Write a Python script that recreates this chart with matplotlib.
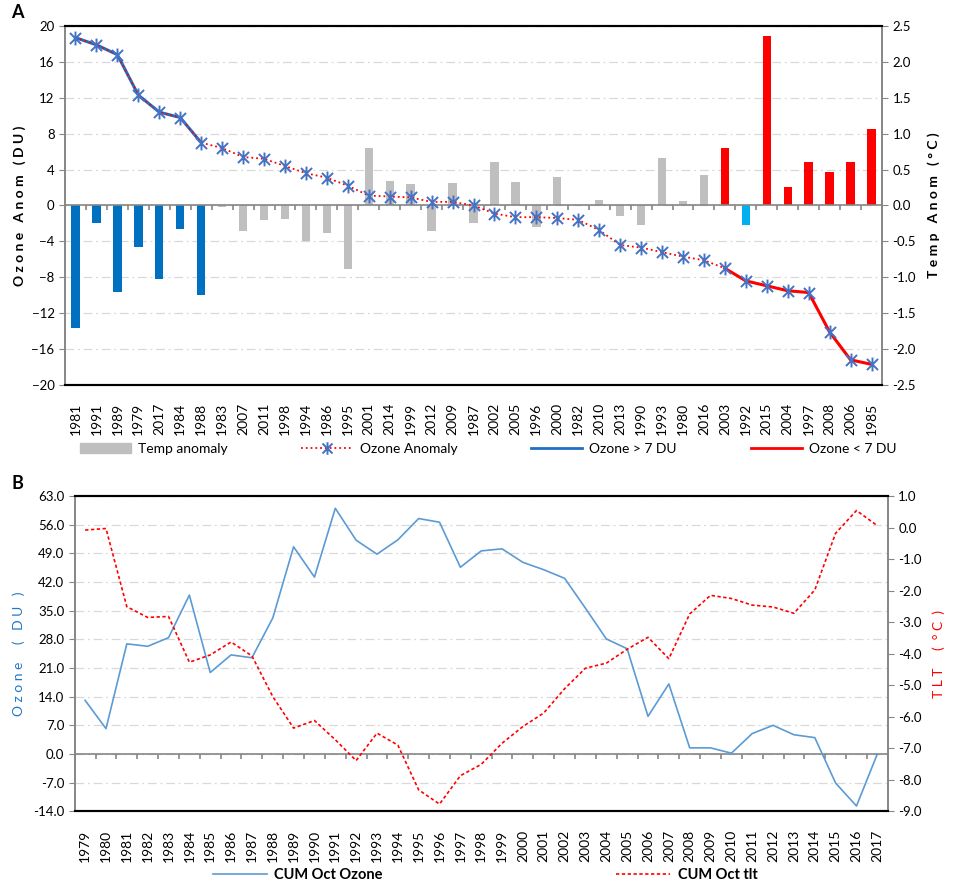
import numpy as np
import matplotlib
matplotlib.use("Agg")
import matplotlib.pyplot as plt
from matplotlib.lines import Line2D
from matplotlib.patches import Patch
from matplotlib.path import Path

plt.rcParams['font.family'] = ['Lato', 'DejaVu Sans']

# Panel A: years sorted by ozone anomaly
years_a = ["1981", "1991", "1989", "1979", "2017", "1984", "1988", "1983", "2007", "2011",
           "1998", "1994", "1986", "1995", "2001", "2014", "1999", "2012", "2009", "1987",
           "2002", "2005", "1996", "2000", "1982", "2010", "2013", "1990", "1993", "1980",
           "2016", "2003", "1992", "2015", "2004", "1997", "2008", "2006", "1985"]
ozone_anom = [18.7, 17.9, 16.8, 12.3, 10.4, 9.8, 7.0, 6.4, 5.4, 5.2,
              4.4, 3.6, 3.1, 2.2, 1.1, 1.0, 0.9, 0.4, 0.4, 0.0,
              -0.9, -1.3, -1.3, -1.4, -1.6, -2.75, -4.4, -4.7, -5.2, -5.7,
              -6.1, -7.0, -8.4, -8.95, -9.5, -9.7, -14.1, -17.2, -17.7]
temp_anom = [-1.70, -0.25, -1.21, -0.58, -1.03, -0.33, -1.25, -0.02, -0.35, -0.20,
             -0.19, -0.49, -0.39, -0.88, 0.80, 0.34, 0.30, -0.35, 0.31, -0.25,
             0.61, 0.33, -0.30, 0.40, -0.01, 0.07, -0.14, -0.27, 0.66, 0.065,
             0.43, 0.80, -0.27, 2.36, 0.26, 0.60, 0.46, 0.61, 1.06]

# Panel B: cumulative October series
years_b = [str(y) for y in range(1979, 2018)]
cum_ozone = [13.1, 6.2, 26.9, 26.3, 28.4, 38.8, 19.9, 24.2, 23.5, 33.2,
             50.6, 43.2, 60.0, 52.2, 48.8, 52.3, 57.5, 56.6, 45.6, 49.6,
             50.1, 46.8, 45.0, 42.9, 35.6, 28.1, 25.7, 9.2, 17.1, 1.5,
             1.5, 0.2, 5.0, 7.0, 4.7, 4.0, -7.1, -12.7, 0.0]
cum_tlt = [-0.08, -0.03, -2.51, -2.85, -2.82, -4.27, -4.04, -3.63, -4.07, -5.36,
           -6.36, -6.12, -6.73, -7.39, -6.52, -6.90, -8.32, -8.77, -7.87, -7.51,
           -6.84, -6.31, -5.88, -5.11, -4.46, -4.30, -3.86, -3.48, -4.16, -2.74,
           -2.15, -2.25, -2.46, -2.52, -2.72, -1.98, -0.18, 0.54, 0.06]

GRAY = '#868686'
GRID = dict(color='#D9D9D9', lw=0.9, ls=(0, (7, 3, 1.5, 3)))
# excel style star: an x with a vertical bar through it
star = Path([(-1, -1), (1, 1), (-1, 1), (1, -1), (0, -1.25), (0, 1.25)],
            [Path.MOVETO, Path.LINETO] * 3)


def style_spines(ax):
    for s in ['top', 'bottom']:
        ax.spines[s].set_color('black')
        ax.spines[s].set_linewidth(1.5)
    for s in ['left', 'right']:
        ax.spines[s].set_color(GRAY)
        ax.spines[s].set_linewidth(1.2)


fig = plt.figure(figsize=(9.59, 8.84), dpi=100)

# ---------------- panel A
axt = fig.add_axes([0.0678, 0.5645, 0.8519, 0.4061])
axo = axt.twinx()
axt.yaxis.tick_right()
axt.yaxis.set_label_position('right')
axo.yaxis.tick_left()
axo.yaxis.set_label_position('left')

x = np.arange(len(years_a))
oz = np.array(ozone_anom)
tmp = np.array(temp_anom)
hi = oz >= 7
lo = oz <= -7
colors = np.where(hi, '#0070C0',
                  np.where(lo & (tmp > 0), '#FF0000',
                           np.where(lo, '#00B0F0', '#BFBFBF')))

axt.bar(x, tmp, width=0.4, color=colors, zorder=2)
axt.set_ylim(-2.5, 2.5)
axt.set_yticks(np.arange(-2.5, 2.51, 0.5))
axt.set_yticklabels(['%.1f' % v for v in np.arange(-2.5, 2.51, 0.5)])
axt.grid(axis='y', **GRID)
axt.set_axisbelow(True)
axt.set_xlim(-0.5, len(x) - 0.5)
axt.set_xticks(x)
axt.set_xticklabels(years_a, rotation=90, fontsize=10)
axt.tick_params(axis='x', length=0, pad=13)
axt.tick_params(axis='y', labelsize=9.5, color=GRAY, length=4)
axt.set_ylabel('T e m p   A n o m   ( ° C )', fontweight='bold', fontsize=10, labelpad=8)

axo.set_ylim(-20, 20)
axo.set_yticks(np.arange(-20, 21, 4))
axo.tick_params(axis='y', labelsize=9.5, color=GRAY, length=4)
axo.axhline(0, color=GRAY, lw=1.2, zorder=1)
edges = np.arange(len(x) + 1) - 0.5
axo.plot(edges, np.zeros(len(edges)), ls='none', marker=3, ms=3.5, mew=1.2, color=GRAY)
axo.plot(x[hi], oz[hi], color='#1F6FC5', lw=2.2)
axo.plot(x[lo], oz[lo], color='#FF0000', lw=2.2)
axo.plot(x, oz, ls=':', color='#FF0000', lw=1.3, marker=star, ms=10, mew=1.4,
         mec='#4472C4', mfc='#4472C4')
axo.set_ylabel('O z o n e   A n o m   ( D U )', fontweight='bold', fontsize=10, labelpad=4)
style_spines(axt)
style_spines(axo)

handles_a = [Patch(color='#BFBFBF'),
             Line2D([], [], ls=':', color='#FF0000', lw=1.3, marker=star, ms=9,
                    mew=1.4, mec='#4472C4'),
             Line2D([], [], color='#1F6FC5', lw=2),
             Line2D([], [], color='#FF0000', lw=2)]
fig.legend(handles_a, ['Temp anomaly', 'Ozone Anomaly', 'Ozone > 7 DU', 'Ozone < 7 DU'],
           loc='center', bbox_to_anchor=(0.509, 0.492), ncol=4, frameon=False,
           fontsize=10, handlelength=3.7, columnspacing=5.3, handletextpad=0.5)

fig.text(0.012, 0.995, 'A', fontweight='bold', fontsize=13, va='top')

# ---------------- panel B
axb = fig.add_axes([0.0779, 0.0822, 0.8478, 0.3567])
axr = axb.twinx()
xb = np.arange(len(years_b))

axb.set_ylim(-14, 63)
axb.set_yticks(np.arange(-14, 63.1, 7))
axb.set_yticklabels(['%.1f' % v for v in np.arange(-14, 63.1, 7)])
axb.grid(axis='y', **GRID)
axb.set_axisbelow(True)
axb.set_xlim(-0.5, len(xb) - 0.5)
axb.set_xticks(xb)
axb.set_xticklabels(years_b, rotation=90, fontsize=10)
axb.tick_params(axis='x', length=0, pad=13)
axb.tick_params(axis='y', labelsize=9.5, color=GRAY, length=4)
axb.axhline(0, color=GRAY, lw=1.2, zorder=1)
edges_b = np.arange(len(xb) + 1) - 0.5
axb.plot(edges_b, np.zeros(len(edges_b)), ls='none', marker=3, ms=3.5, mew=1.2, color=GRAY)
axb.plot(xb, cum_ozone, color='#5B9BD5', lw=1.2, zorder=3)
axb.set_ylabel('O z o n e     (   D U   )', color='#1F78C8', fontsize=10, labelpad=6)

axr.set_ylim(-9, 1)
axr.set_yticks(np.arange(-9, 1.1, 1))
axr.set_yticklabels(['%.1f' % v for v in np.arange(-9, 1.1, 1)])
axr.tick_params(axis='y', labelsize=9.5, color=GRAY, length=4)
axr.plot(xb, cum_tlt, color='#FF0000', lw=1.2, ls=(0, (2, 1.5)))
axr.set_ylabel('T L T     (  ° C  )', color='#FF0000', fontsize=10, labelpad=8)
style_spines(axb)
style_spines(axr)

handles_b = [Line2D([], [], color='#5B9BD5', lw=1.2),
             Line2D([], [], color='#FF0000', lw=1.2, ls=(0, (2, 1.5)))]
fig.legend(handles_b, ['CUM Oct Ozone', 'CUM Oct tlt'],
           loc='center', bbox_to_anchor=(0.506, 0.01), ncol=2, frameon=False,
           handlelength=3.7, columnspacing=16, handletextpad=0.5,
           prop={'weight': 'bold', 'size': 10.5})

fig.text(0.012, 0.463, 'B', fontweight='bold', fontsize=13, va='top')

fig.savefig('out.png', dpi=100)
